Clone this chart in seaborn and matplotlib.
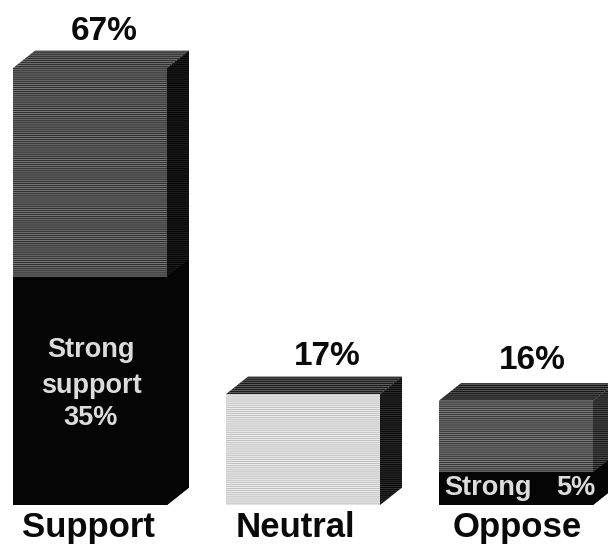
import matplotlib
matplotlib.use("Agg")
import matplotlib.pyplot as plt
from matplotlib.patches import Polygon
import pandas as pd
import seaborn as sns

categories = ["Support", "Neutral", "Oppose"]
totals = [67, 17, 16]
strong = [35, 0, 5]
total_labels = ["67%", "17%", "16%"]

sns.set_theme(style="white")
plt.rcParams["font.family"] = ["Liberation Sans", "DejaVu Sans"]
plt.rcParams["hatch.linewidth"] = 0.55

W, H = 608, 546
fig = plt.figure(figsize=(W / 100, H / 100), dpi=100, facecolor="white")

# Axes cover the figure above the category labels; one unit = 6.52 px.
PX_PER_UNIT = 6.52
PX_PER_CAT = 213.0
BASE_PX = 41
ax = fig.add_axes([0, BASE_PX / H, 1, (H - BASE_PX) / H])

df = pd.DataFrame({"category": categories, "total": totals, "strong": strong})

face_colours = ["#303030", "#ececec", "#383838"]
hatch_colours = ["#8c8c8c", "#b4b4b4", "#909090"]
hatches = ["-" * 8, "-" * 8, "-" * 8]
top_colours = ["#303030", "#1c1c1c", "#181818"]
top_hatch = ["#808080", "#707070", "#686868"]
side_colours = ["#060606", "#080808", "#181818"]
side_hatch = ["#262626", "#3c3c3c", "#606060"]

sns.barplot(data=df, x="category", y="total", hue="category", order=categories,
            palette=dict(zip(categories, face_colours)), saturation=1,
            width=0.723, legend=False, ax=ax, zorder=2, linewidth=0)
sns.barplot(data=df, x="category", y="strong", hue="category", order=categories,
            palette=dict(zip(categories, ["#050505"] * 3)), saturation=1,
            width=0.723, legend=False, ax=ax, zorder=3, linewidth=0)

ax.set_xlim(-90 / PX_PER_CAT, (W - 90) / PX_PER_CAT)
ax.set_ylim(0, (H - BASE_PX) / PX_PER_UNIT)
ax.set_axis_off()

DX = 22 / PX_PER_CAT
DY = 17.5 / PX_PER_UNIT

total_bars = ax.patches[:3]
strong_bars = ax.patches[3:6]

for i, bar in enumerate(total_bars):
    x0, x1 = bar.get_x(), bar.get_x() + bar.get_width()
    h = bar.get_height()
    bar.set_hatch(hatches[i])
    bar.set_edgecolor(hatch_colours[i])
    ax.add_patch(Polygon([(x0, h), (x0 + DX, h + DY), (x1 + DX, h + DY), (x1, h)],
                         facecolor=top_colours[i], edgecolor=top_hatch[i], hatch="-" * 8,
                         linewidth=0, zorder=1))
    ax.add_patch(Polygon([(x1, 0), (x1 + DX, DY), (x1 + DX, h + DY), (x1, h)],
                         facecolor=side_colours[i], edgecolor=side_hatch[i], hatch="-" * 8,
                         linewidth=0, zorder=1))

for bar in strong_bars:
    if bar.get_height() > 0:
        x1 = bar.get_x() + bar.get_width()
        h = bar.get_height()
        ax.add_patch(Polygon([(x1, 0), (x1 + DX, DY), (x1 + DX, h + DY), (x1, h)],
                             facecolor="#050505", linewidth=0, zorder=1.5))

# Percentages above each block and category names below the baseline.
total_shift = [14, 24, 16]
total_gap = [28, 29, 32]
name_shift = [-2, -8, 1]
for i, bar in enumerate(total_bars):
    cx = bar.get_x() + bar.get_width() / 2
    ax.annotate(total_labels[i], xy=(cx, bar.get_height()), xytext=(total_shift[i], total_gap[i]),
                textcoords="offset pixels", ha="center", va="baseline",
                fontsize=24, fontweight="bold", color="#0a0a0a")
    ax.annotate(categories[i], xy=(cx, 0), xytext=(name_shift[i], -32),
                textcoords="offset pixels", ha="center", va="baseline",
                fontsize=25, fontweight="bold", color="#0a0a0a", annotation_clip=False)

# Captions on the "strong" segments.
inner = "#dcdcdc"
ax.annotate("Strong", xy=(0, 0), xytext=(1, 148), textcoords="offset pixels",
            ha="center", va="baseline", fontsize=19.5, fontweight="bold", color=inner, zorder=5)
ax.annotate("support", xy=(0, 0), xytext=(1, 112), textcoords="offset pixels",
            ha="center", va="baseline", fontsize=19.5, fontweight="bold", color=inner, zorder=5)
ax.annotate(f"{strong[0]}%", xy=(0, 0), xytext=(1, 80), textcoords="offset pixels",
            ha="center", va="baseline", fontsize=19.5, fontweight="bold", color=inner, zorder=5)
ax.annotate("Strong", xy=(2, 0), xytext=(-28, 10), textcoords="offset pixels",
            ha="center", va="baseline", fontsize=19.5, fontweight="bold", color=inner, zorder=5)
ax.annotate(f"{strong[2]}%", xy=(2, 0), xytext=(60, 10), textcoords="offset pixels",
            ha="center", va="baseline", fontsize=19.5, fontweight="bold", color=inner, zorder=5)

fig.savefig("out.png", dpi=100)
